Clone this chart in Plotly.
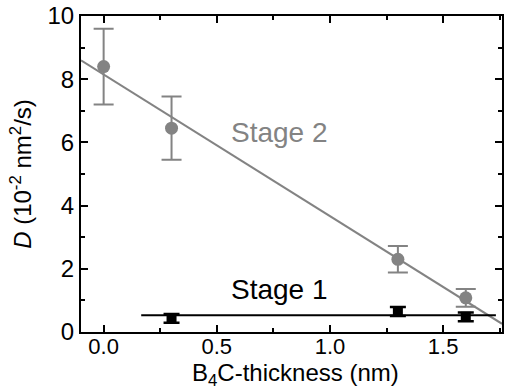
import plotly.graph_objects as go

# Stage 2 data (gray circles)
s2_x = [0.0, 0.3, 1.3, 1.6]
s2_y = [8.4, 6.45, 2.3, 1.08]
s2_err = [1.2, 1.0, 0.42, 0.28]

# Stage 1 data (black squares)
s1_x = [0.3, 1.3, 1.6]
s1_y = [0.43, 0.65, 0.48]
s1_err = [0.14, 0.14, 0.14]

# Linear fit of stage 2 (endpoints)
fit2_x = [-0.1, 1.76]
fit2_y = [8.6, 0.26]

# Stage 1 average level line
fit1_x = [0.166, 1.733]
fit1_y = [0.53, 0.53]

GRAY = "#838383"
FONT = "Liberation Sans, Arial, sans-serif"

fig = go.Figure()
fig.add_trace(go.Scatter(x=fit2_x, y=fit2_y, mode="lines",
                         line=dict(color=GRAY, width=2), showlegend=False))
fig.add_trace(go.Scatter(x=fit1_x, y=fit1_y, mode="lines",
                         line=dict(color="black", width=2), showlegend=False))
fig.add_trace(go.Scatter(x=s2_x, y=s2_y, mode="markers",
                         marker=dict(color=GRAY, size=13, symbol="circle"),
                         error_y=dict(type="data", array=s2_err, color=GRAY,
                                      thickness=2, width=10),
                         showlegend=False))
fig.add_trace(go.Scatter(x=s1_x, y=s1_y, mode="markers",
                         marker=dict(color="black", size=10, symbol="square"),
                         error_y=dict(type="data", array=s1_err, color="black",
                                      thickness=2.5, width=8),
                         showlegend=False))

fig.add_annotation(x=0.775, y=6.3, text="Stage 2", showarrow=False,
                   font=dict(family=FONT, size=28, color=GRAY))
fig.add_annotation(x=0.775, y=1.33, text="Stage 1", showarrow=False,
                   font=dict(family=FONT, size=28, color="black"))
# x-axis title placed as an annotation below the tick labels
fig.add_annotation(xref="paper", yref="paper", x=0.509, y=-0.133,
                   xanchor="center", yanchor="middle",
                   text="B<sub>4</sub>C-thickness (nm)", showarrow=False,
                   font=dict(family=FONT, size=24, color="black"))

axis_common = dict(showline=True, linecolor="black", linewidth=2,
                   mirror="allticks", ticks="inside", ticklen=7,
                   tickwidth=2, tickcolor="black", showgrid=False,
                   zeroline=False)

fig.update_xaxes(range=[-0.1, 1.76], tickmode="array",
                 tickvals=[0.0, 0.5, 1.0, 1.5],
                 ticktext=["0.0", "0.5", "1.0", "1.5"],
                 ticklabelstandoff=-6,
                 tickfont=dict(family=FONT, size=22, color="black"),
                 minor=dict(ticks="inside", dtick=0.25, tick0=0, ticklen=4,
                            tickwidth=2, tickcolor="black", showgrid=False),
                 **axis_common)
fig.update_yaxes(range=[0, 10], tickmode="array",
                 tickvals=[0, 2, 4, 6, 8, 10],
                 tickfont=dict(family=FONT, size=24, color="black"),
                 minor=dict(ticks="inside", dtick=1, tick0=0, ticklen=4,
                            tickwidth=2, tickcolor="black", showgrid=False),
                 title=dict(text="<i>D</i> (10<sup>-2</sup> nm<sup>2</sup>/s)",
                            font=dict(family=FONT, size=24, color="black"),
                            standoff=9),
                 **axis_common)

fig.update_layout(width=505, height=390,
                  margin=dict(l=81, r=1, t=16, b=58),
                  paper_bgcolor="white", plot_bgcolor="white",
                  showlegend=False)

fig.write_html("out.html")
